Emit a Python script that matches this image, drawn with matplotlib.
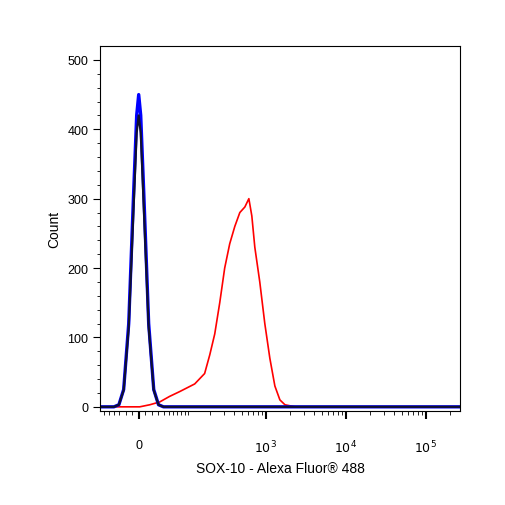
import numpy as np
import matplotlib
matplotlib.use("Agg")
import matplotlib.pyplot as plt
plt.rcParams['font.family'] = ['Liberation Sans', 'DejaVu Sans']

W = 51.5
red_x = [-70, 0, 1.5, 16.8, 33, 52, 76, 124, 168, 196, 227, 263, 304, 352, 408, 472, 546, 613, 668, 728, 840, 971, 1123, 1298, 1500, 1735, 2320, 10000, 268000]
red_y = [0, 0, 0, 3, 7, 15, 22, 33, 48, 75, 105, 150, 200, 235, 260, 280, 288, 300, 275, 230, 180, 120, 70, 30, 10, 3, 0, 0, 0]
blue_x = [-70, -40, -31, -23, -15, -7.5, -3, 0, 3, 7.5, 15, 23, 31, 40, 268000]
blue_y = [0, 0, 3, 25, 120, 310, 420, 450, 420, 310, 120, 25, 3, 0, 0]
black_x = [-70, -40, -31, -23, -15, -7.5, -3, 0, 3, 7.5, 15, 23, 31, 40, 268000]
black_y = [0, 0, 3, 24, 115, 290, 395, 420, 395, 290, 115, 24, 3, 0, 0]

fwd = lambda x: np.arcsinh(np.asarray(x) / W)
inv = lambda y: W * np.sinh(np.asarray(y))

fig = plt.figure(figsize=(5.06, 5.06), dpi=100)
ax = fig.add_axes([100/506, 1-412/506, 360/506, 365/506])
ax.set_xscale('function', functions=(fwd, inv))
ax.plot(red_x, red_y, color='red', lw=1.2)
ax.plot(blue_x, blue_y, color='blue', lw=2.4)
ax.plot(black_x, black_y, color='#101030', lw=1.6)
ax.set_xlim(-70, 268000)
ax.set_ylim(-6, 520)
ax.set_yticks([0, 100, 200, 300, 400, 500])
ax.set_yticks(np.arange(0, 520, 20), minor=True)
ax.set_xticks([0, 1000, 10000, 100000])
ax.set_xticklabels(['0', '$10^3$', '$10^4$', '$10^5$'])
minors = list(np.arange(-60, 0, 10)) + list(np.arange(10, 100, 10)) + list(np.arange(100, 1000, 100)) + list(np.arange(2000, 10000, 1000)) + list(np.arange(20000, 100000, 10000)) + [200000]
ax.set_xticks(minors, minor=True)
ax.tick_params(axis='x', which='major', length=6, width=1.5, pad=14, labelsize=9)
ax.tick_params(axis='x', which='minor', length=3)
ax.tick_params(axis='y', which='major', length=5, labelsize=9)
ax.tick_params(axis='y', which='minor', length=2.5)
ax.set_xlabel('SOX-10 - Alexa Fluor® 488', fontsize=10)
ax.set_ylabel('Count', fontsize=10)
fig.savefig('out.png', dpi=100)
